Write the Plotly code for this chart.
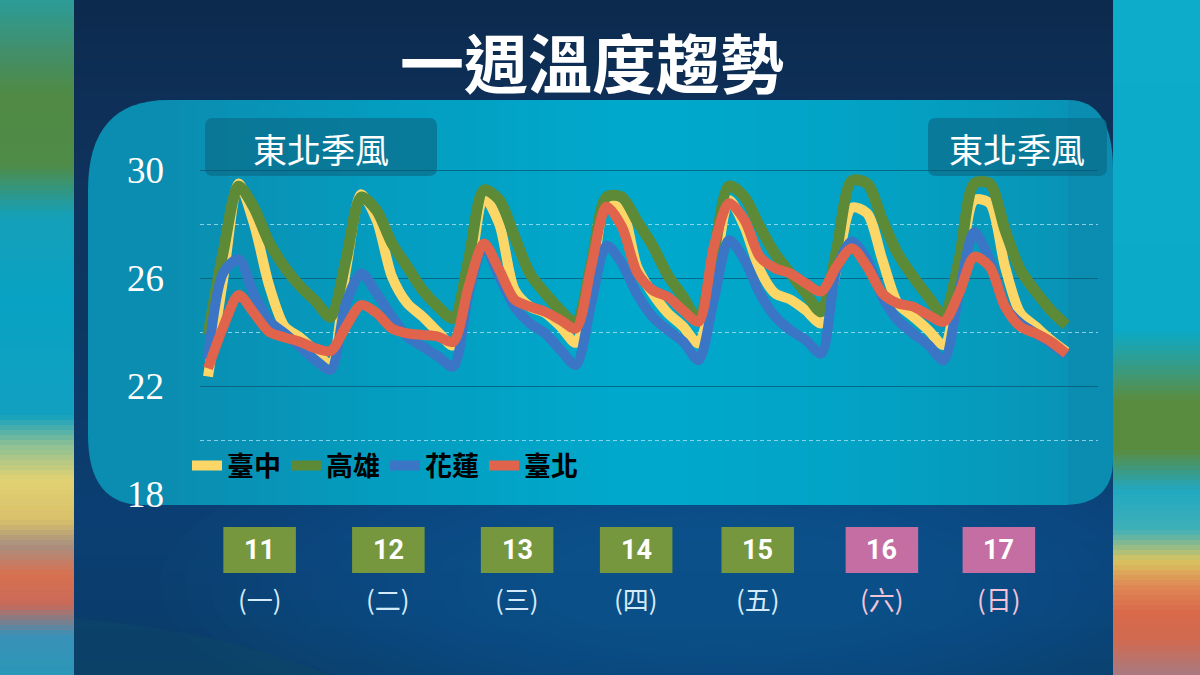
import plotly.graph_objects as go

# ---------------- data ----------------
hours = list(range(0, 169, 3))  # 3-hourly time index, 11th (morning) -> 18th (morning)

taichung = [22.35, 26.0, 29.5, 28.0, 25.7, 24.2, 23.8, 23.3, 22.8,
            26.3, 29.1, 28.15, 26.05, 25.06, 24.57, 24.0, 23.5,
            25.8, 29.0, 28.0, 25.56, 24.94, 24.7, 24.2, 23.6,
            25.8, 28.77, 28.5, 26.4, 25.43, 24.7, 24.2, 23.58,
            25.9, 28.89, 27.9, 26.3, 25.43, 25.2, 24.8, 24.32,
            26.3, 28.6, 28.4, 26.67, 25.06, 24.57, 24.07, 23.52,
            25.9, 28.89, 28.77, 26.42, 24.7, 24.2, 23.7, 23.27]

kaohsiung = [23.9, 27.0, 29.4, 28.6, 27.3, 26.4, 25.7, 25.15, 24.55,
             26.67, 29.0, 28.5, 27.28, 26.42, 25.55, 24.94, 24.5,
             26.67, 29.26, 28.9, 27.53, 26.17, 25.43, 24.8, 24.32,
             26.5, 29.0, 29.0, 28.1, 27.2, 26.1, 25.3, 24.44,
             26.9, 29.4, 29.0, 27.9, 26.9, 26.17, 25.43, 24.75,
             27.0, 29.6, 29.5, 28.15, 26.9, 26.05, 25.3, 24.63,
             26.67, 29.5, 29.5, 27.78, 26.3, 25.5, 24.8, 24.26]

hualien = [23.0, 26.2, 26.7, 25.4, 24.4, 23.95, 23.46, 22.96, 22.6,
           25.06, 26.17, 25.43, 24.57, 23.83, 23.46, 23.1, 22.72,
           25.43, 27.2, 26.05, 24.94, 24.32, 23.95, 23.33, 22.78,
           25.06, 27.2, 26.54, 25.4, 24.57, 24.07, 23.64, 22.96,
           25.2, 27.4, 26.67, 25.43, 24.57, 24.07, 23.7, 23.2,
           26.3, 27.35, 26.67, 25.3, 24.44, 23.95, 23.52, 22.96,
           25.43, 27.7, 26.67, 24.94, 24.32, 23.95, 23.58, 23.15]

taipei = [22.65, 24.2, 25.37, 24.7, 24.0, 23.8, 23.64, 23.4, 23.3,
          24.2, 25.0, 24.7, 24.13, 23.95, 23.89, 23.83, 23.64,
          25.68, 27.28, 26.3, 25.2, 24.94, 24.75, 24.44, 24.13,
          26.42, 28.64, 27.9, 26.2, 25.55, 25.3, 24.8, 24.38,
          27.16, 28.77, 28.15, 26.79, 26.36, 26.17, 25.8, 25.5,
          26.42, 27.1, 26.42, 25.43, 25.06, 24.94, 24.63, 24.38,
          25.43, 26.79, 26.42, 24.94, 24.2, 23.95, 23.64, 23.2]

series_names = ["臺中", "高雄", "花蓮", "臺北"]
dates = ["11", "12", "13", "14", "15", "16", "17"]
weekdays = ["(一)", "(二)", "(三)", "(四)", "(五)", "(六)", "(日)"]
weekend = [False, False, False, False, False, True, True]
y_ticks = [18, 22, 26, 30]
title_text = "一週溫度趨勢"
monsoon_text = "東北季風"

# ---------------- styling / layout helpers ----------------
W, H = 1200, 675
PL, PR, PT, PB = 200, 1098, 116, 494  # plot area in pixels
X_RANGE = [-1.57, 174.2]
Y_RANGE = [18, 32]


def PX(x):
    return (x - PL) / (PR - PL)


def PY(y):
    return (PB - y) / (PB - PT)


def hexrgb(h):
    h = h.lstrip('#')
    return tuple(int(h[i:i + 2], 16) for i in (0, 2, 4))


def interp(stops, y):
    for (y0, c0), (y1, c1) in zip(stops[:-1], stops[1:]):
        if y0 <= y <= y1:
            f = 0 if y1 == y0 else (y - y0) / (y1 - y0)
            a, b = hexrgb(c0), hexrgb(c1)
            return 'rgb(%d,%d,%d)' % tuple(round(a[i] + (b[i] - a[i]) * f) for i in range(3))
    return stops[-1][1]


shapes = []


def band_strip(x0, x1, stops, step=8, ytop=0, ybot=H):
    y = ytop
    while y < ybot:
        c = interp(stops, y + step / 2)
        shapes.append(dict(type='rect', xref='paper', yref='paper', layer='below',
                           x0=PX(x0), x1=PX(x1), y0=PY(y), y1=PY(min(ybot, y + step + 0.6)),
                           fillcolor=c, line=dict(width=0)))
        y += step


def band_cols(x0, x1, y0, y1, stops, step=10):
    x = x0
    while x < x1:
        c = interp(stops, x + step / 2)
        shapes.append(dict(type='rect', xref='paper', yref='paper', layer='below',
                           x0=PX(x), x1=PX(min(x1, x + step + 0.6)), y0=PY(y1), y1=PY(y0),
                           fillcolor=c, line=dict(width=0)))
        x += step


# central navy background
band_strip(73, 1113, [(0, '#0c2a4d'), (110, '#0e3058'), (320, '#0d3763'),
                      (520, '#0b3f73'), (675, '#0a3a68')], step=15)
# soft glow behind the dates (many faint layers to avoid visible rings)
for k in range(16):
    rx, ry = 560 - k * 25, 170 - k * 7.5
    cx, cy = 720, 585
    shapes.append(dict(type='circle', xref='paper', yref='paper', layer='below',
                       x0=PX(cx - rx), x1=PX(cx + rx), y0=PY(cy - ry), y1=PY(cy + ry),
                       fillcolor='#2a80c4', opacity=0.03, line=dict(width=0)))
# bottom-left swoosh
shapes.append(dict(type='path', xref='paper', yref='paper', layer='below',
                   path='M %f %f Q %f %f %f %f L %f %f Z' % (PX(73), PY(618), PX(220), PY(630), PX(330), PY(675),
                                                              PX(73), PY(675)),
                   fillcolor='#0c4866', opacity=0.5, line=dict(width=0)))
# colourful side strips
band_strip(0, 74, [(0, '#2c9c98'), (45, '#3f9070'), (95, '#508a44'), (165, '#4f8c48'),
                   (215, '#16a0b8'), (300, '#08a2c4'), (415, '#12a0c0'), (445, '#8cc094'),
                   (480, '#e2d272'), (520, '#d8c06a'), (545, '#a89080'), (575, '#d87050'),
                   (605, '#c86a5a'), (635, '#3a90b8'), (675, '#2a98b8')], step=5)
band_strip(1113, 1200, [(0, '#0cacca'), (330, '#0aaac8'), (370, '#3a9a80'), (400, '#5a8c40'),
                        (450, '#5a8c40'), (490, '#20a8c0'), (530, '#40b0b8'), (560, '#d8c460'),
                        (585, '#e08a55'), (612, '#d86a4a'), (640, '#d06a50'), (675, '#a87a80')], step=5)


def rounded_panel(x0, y0, x1, y1, tl, bl, tr, br):
    # each corner radius as (rx, ry)
    p = 'M %f %f ' % (PX(x0 + tl[0]), PY(y0))
    p += 'L %f %f ' % (PX(x1 - tr[0]), PY(y0))
    p += 'Q %f %f %f %f ' % (PX(x1), PY(y0), PX(x1), PY(y0 + tr[1]))
    p += 'L %f %f ' % (PX(x1), PY(y1 - br[1]))
    p += 'Q %f %f %f %f ' % (PX(x1), PY(y1), PX(x1 - br[0]), PY(y1))
    p += 'L %f %f ' % (PX(x0 + bl[0]), PY(y1))
    p += 'Q %f %f %f %f ' % (PX(x0), PY(y1), PX(x0), PY(y1 - bl[1]))
    p += 'L %f %f ' % (PX(x0), PY(y0 + tl[1]))
    p += 'Q %f %f %f %f Z' % (PX(x0), PY(y0), PX(x0 + tl[0]), PY(y0))
    return p


# teal chart panel with a soft horizontal gradient
shapes.append(dict(type='path', xref='paper', yref='paper', layer='below',
                   path=rounded_panel(88, 100, 1113, 505, (80, 90), (55, 70), (45, 70), (50, 45)),
                   fillcolor='#0a8db0', line=dict(width=0)))
band_cols(168, 1068, 100, 505, [(168, '#0a8db0'), (420, '#039fc2'), (640, '#00a9cc'),
                                 (880, '#03a2c4'), (1068, '#0894b6')], step=10)

# monsoon label boxes
for (bx0, bx1) in [(205, 437), (928, 1107)]:
    shapes.append(dict(type='path', xref='paper', yref='paper', layer='below',
                       path=rounded_panel(bx0, 118, bx1, 176, (8, 8), (8, 8), (8, 8), (8, 8)),
                       fillcolor='#0b6f8e', opacity=0.75, line=dict(width=0)))

annotations = []


def ann(text, x, y, font, xref='paper', yref='paper'):
    annotations.append(dict(text=text, xref=xref, yref=yref, x=x, y=y, showarrow=False,
                            xanchor='center', yanchor='middle', font=font))


ann(monsoon_text, PX(321), PY(148), dict(family='Noto Sans CJK TC', size=34, color='white'))
ann(monsoon_text, PX(1017), PY(148), dict(family='Noto Sans CJK TC', size=34, color='white'))

# title
ann(title_text, PX(592), PY(60), dict(family='Noto Sans CJK TC', size=64, color='white', weight='bold'))

# y tick labels
for v in y_ticks:
    ann(str(v), PX(145), v, dict(family='Liberation Serif', size=37, color='white'), yref='y')

# date boxes
box_hours = [10.1, 35.3, 60.5, 83.8, 107.6, 131.9, 154.8]
for h, d, wd, we in zip(box_hours, dates, weekdays, weekend):
    shapes.append(dict(type='rect', xref='x', yref='paper', layer='below',
                       x0=h - 7.1, x1=h + 7.1, y0=PY(573), y1=PY(527),
                       fillcolor='#c46ea4' if we else '#76973e', line=dict(width=0)))
    ann('<b>%s</b>' % d, h, PY(550), dict(family='Roboto', size=27, color='white'), xref='x')
    ann(wd, h, PY(598), dict(family='Noto Sans CJK TC', size=26,
                             color='#f3c4d8' if we else '#d4eaf8'), xref='x')

colors = ['#fcd768', '#5d8a37', '#3b76c6', '#e0634b']
widths = [10, 11, 10, 10]

fig = go.Figure()
for name, vals, c, w in zip(series_names, [taichung, kaohsiung, hualien, taipei], colors, widths):
    fig.add_trace(go.Scatter(x=hours, y=vals, name=name, mode='lines',
                             line=dict(color=c, width=w, shape='spline', smoothing=0.8)))

fig.update_layout(
    width=W, height=H,
    margin=dict(l=PL, r=W - PR, t=PT, b=H - PB, pad=0),
    paper_bgcolor='#0c2e57', plot_bgcolor='rgba(0,0,0,0)',
    shapes=shapes, annotations=annotations,
    showlegend=True,
    legend=dict(orientation='h', x=PX(187), xanchor='left', y=PY(466), yanchor='middle',
                font=dict(family='Noto Sans CJK TC', size=27, color='black', weight='bold'),
                bgcolor='rgba(0,0,0,0)', itemwidth=30, tracegroupgap=0,
                entrywidth=54, entrywidthmode='pixels'),
    xaxis=dict(range=X_RANGE, showgrid=False, zeroline=False, showticklabels=False,
               showline=False, ticks='', fixedrange=True),
    yaxis=dict(range=Y_RANGE, tick0=18, dtick=4, showgrid=True, gridcolor='rgba(8,85,115,0.75)',
               gridwidth=1.3, zeroline=False, showticklabels=False, ticks='', showline=False,
               minor=dict(dtick=2, showgrid=True, gridcolor='rgba(190,235,248,0.7)',
                          gridwidth=1, griddash='4px,3px')),
)

fig.write_html("out.html", config={'displayModeBar': False},
               post_script="document.body.style.margin='0';document.body.style.overflow='hidden';")
